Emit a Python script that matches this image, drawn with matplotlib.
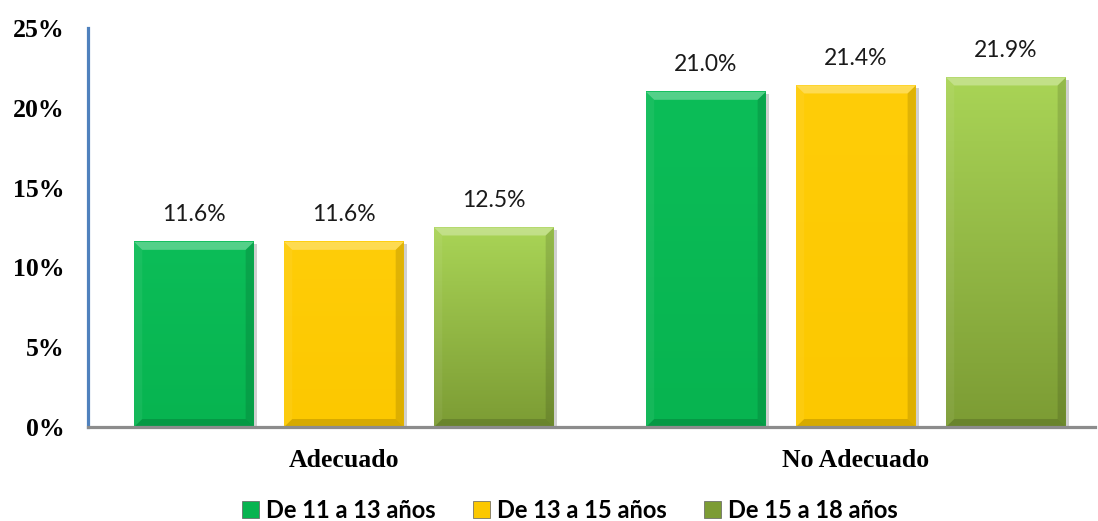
import numpy as np
import matplotlib.pyplot as plt
from matplotlib.patches import Polygon, Patch
from matplotlib.colors import to_rgb

categorias = ["Adecuado", "No Adecuado"]
grupos = ["De 11 a 13 años", "De 13 a 15 años", "De 15 a 18 años"]
v_11_13 = [11.6, 21.0]
v_13_15 = [11.6, 21.4]
v_15_18 = [12.5, 21.9]
series = [v_11_13, v_13_15, v_15_18]
yticks = [0, 5, 10, 15, 20, 25]

# colores (top, bottom) de cada serie
colores = [("#0cbd58", "#07b450"), ("#ffcd08", "#fcc800"), ("#a9d456", "#7c9c34")]

fig = plt.figure(figsize=(10.98, 5.21), dpi=100)
ax = fig.add_axes([88 / 1098, 94 / 521, (1095 - 88) / 1098, 399 / 521])

x = np.arange(len(categorias))
ancho = 0.234
paso = 0.293
dx = 0.016   # bisel horizontal
dy = 0.5     # bisel vertical


def barra(x0, x1, h, c_top, c_bot):
    # sombra suave
    ax.add_patch(Polygon([(x1, 0), (x1 + 0.006, 0), (x1 + 0.006, h - 0.15), (x1, h - 0.15)],
                         closed=True, fc="#d0d0d0", ec="none", zorder=2))
    # degradado vertical
    n = 64
    c1 = np.array(to_rgb(c_top))
    c2 = np.array(to_rgb(c_bot))
    t = np.linspace(0, 1, n)[:, None]
    img = (c1 * (1 - t) + c2 * t)[:, None, :]
    ax.imshow(img, extent=(x0, x1, 0, h), aspect="auto", origin="upper", zorder=3,
              interpolation="bilinear")
    # biseles
    arriba = [(x0, h), (x1, h), (x1 - dx, h - dy), (x0 + dx, h - dy)]
    abajo = [(x0, 0), (x1, 0), (x1 - dx, dy), (x0 + dx, dy)]
    izq = [(x0, 0), (x0, h), (x0 + dx, h - dy), (x0 + dx, dy)]
    der = [(x1, 0), (x1, h), (x1 - dx, h - dy), (x1 - dx, dy)]
    ax.add_patch(Polygon(arriba, closed=True, fc="white", alpha=0.30, ec="none", zorder=4))
    ax.add_patch(Polygon(abajo, closed=True, fc="black", alpha=0.15, ec="none", zorder=4))
    ax.add_patch(Polygon(izq, closed=True, fc="white", alpha=0.06, ec="none", zorder=4))
    ax.add_patch(Polygon(der, closed=True, fc="black", alpha=0.12, ec="none", zorder=4))


for i, vals in enumerate(series):
    for j, v in enumerate(vals):
        xc = x[j] + (i - 1) * paso
        barra(xc - ancho / 2, xc + ancho / 2, v, *colores[i])
        ax.annotate(f"{v:.1f}%", (xc, v), xytext=(0, 12), textcoords="offset points",
                    ha="center", va="bottom", fontsize=16.5, family="Lato", color="#1a1a1a")

ax.set_xlim(-0.5, 1.467)
ax.set_ylim(0, 25)
ax.set_yticks(yticks)
ax.set_yticklabels([f"{t}%" for t in yticks], family="Liberation Serif",
                   fontweight="bold", fontsize=18.5)
ax.set_xticks(x)
ax.set_xticklabels(categorias, family="Liberation Serif", fontweight="bold", fontsize=18.5)
ax.tick_params(axis="y", length=0, pad=17)
ax.tick_params(axis="x", length=0, pad=16)

for s in ["top", "right"]:
    ax.spines[s].set_visible(False)
ax.spines["left"].set_color("#4f81bd")
ax.spines["left"].set_linewidth(2.3)
ax.spines["bottom"].set_color("#8c8c8c")
ax.spines["bottom"].set_linewidth(2.3)
ax.spines["bottom"].set_zorder(6)

handles = [Patch(fc=colores[i][1], ec="#606060", lw=0.5) for i in range(3)]
fig.legend(handles, grupos, loc="center", bbox_to_anchor=(570 / 1098, 11 / 521), ncol=3,
           frameon=False, handlelength=0.7, handleheight=0.7, handletextpad=0.3,
           columnspacing=1.6, prop={"family": "Lato", "weight": "bold", "size": 17})

fig.savefig("out.png", dpi=100)
